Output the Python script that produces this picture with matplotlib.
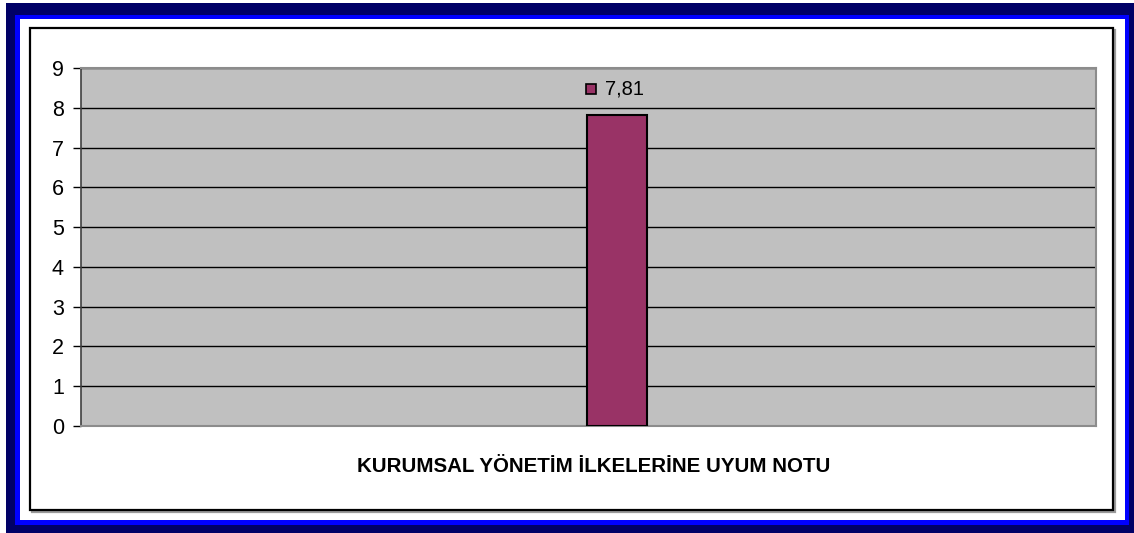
import matplotlib
matplotlib.use("Agg")
import matplotlib.pyplot as plt
from matplotlib.patches import Rectangle
from matplotlib.transforms import offset_copy

categories = ["KURUMSAL YÖNETİM İLKELERİNE UYUM NOTU"]
values = [7.81]
value_labels = ["7,81"]
yticks = [0, 1, 2, 3, 4, 5, 6, 7, 8, 9]

W, H = 1134, 533
fig = plt.figure(figsize=(W / 100, H / 100), dpi=100)
fig.patch.set_facecolor("white")

# frame decoration in pixel coordinates
bg = fig.add_axes([0, 0, 1, 1], zorder=-5)
bg.set_xlim(0, W)
bg.set_ylim(H, 0)
bg.axis("off")
bg.add_patch(Rectangle((6, 3), W - 6, H - 3, facecolor="#000066", edgecolor="none"))
bg.add_patch(Rectangle((15, 15), 1129 - 15, 525 - 15, facecolor="#0000FF", edgecolor="none"))
bg.add_patch(Rectangle((20, 19), 1125 - 20, 520 - 19, facecolor="white", edgecolor="none"))
# inner chart border with shadow
bg.add_patch(Rectangle((32, 30), 1113 - 30, 510 - 28, facecolor="none", edgecolor="#9a9a9a", linewidth=1.6))
bg.add_patch(Rectangle((30, 28), 1113 - 30, 510 - 28, facecolor="white", edgecolor="black", linewidth=1.6))

# plot area
px0, px1, py0, py1 = 80.5, 1096, 68, 426
ax = fig.add_axes([px0 / W, 1 - py1 / H, (px1 - px0) / W, (py1 - py0) / H])
ax.set_facecolor("#C0C0C0")

x = list(range(len(categories)))
ax.bar(x, values, width=1.0, color="#993366", edgecolor="black", linewidth=1.5, zorder=3)

ax.set_ylim(0, 9)
Wd = (px1 - px0) / 60.0
ax.set_xlim(-0.5285 * Wd, 0.4715 * Wd)
ax.set_yticks(yticks)
ax.set_yticklabels([str(t) for t in yticks], fontsize=15.5, fontfamily="Liberation Sans")
ax.yaxis.grid(True, color="black", linewidth=1.0, zorder=1)
ax.set_axisbelow(True)
ax.tick_params(axis="y", length=6, width=1, color="black", pad=6)
ax.set_xticks([])

for side in ["top", "right", "bottom"]:
    ax.spines[side].set_color("#8c8c8c")
    ax.spines[side].set_linewidth(1.5)
ax.spines["left"].set_color("#404040")
ax.spines["left"].set_linewidth(1.2)

# data labels
for xi, v, lab in zip(x, values, value_labels):
    tr = offset_copy(ax.transData, fig=fig, x=-26, y=26, units="dots")
    ax.plot([xi], [v], marker="s", markersize=7.5, markerfacecolor="#993366",
            markeredgecolor="black", markeredgewidth=1.2, transform=tr, clip_on=False, zorder=5)
    ax.annotate(lab, xy=(xi, v), xytext=(-12, 26), textcoords="offset pixels",
                ha="left", va="center", fontsize=14.5, fontfamily="Liberation Sans")

# category label
fig.text(594 / W, 1 - 466 / H, categories[0], ha="center", va="center",
         fontsize=14.8, fontweight="bold", fontfamily="Liberation Sans")

fig.savefig("out.png", dpi=100)
